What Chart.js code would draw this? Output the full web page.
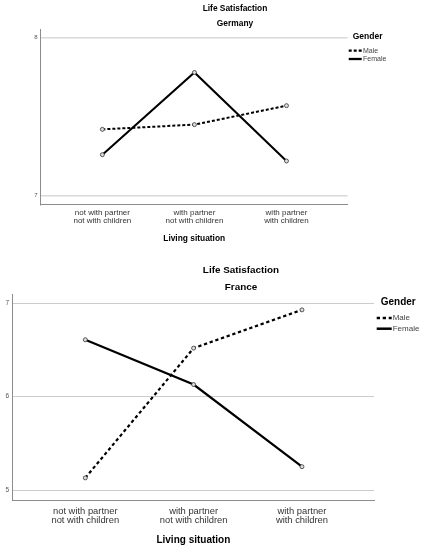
<!DOCTYPE html>
<html>
<head>
  <title>Life Satisfaction</title>
  <script src="https://cdn.jsdelivr.net/npm/chart.js"></script>
  <style>
    body{
        margin:0px;
        padding:0px;
        background-color:#ffffff;
    }
    .panel{
        position:absolute;
        left:0px;
        width:424px;
    }
    #germany-box{ top:0px; height:250px; }
    #france-box{ top:250px; height:300px; }
  </style>
</head>
<body>
  <div class="panel" id="germany-box"><canvas id="germany"></canvas></div>
  <div class="panel" id="france-box"><canvas id="france"></canvas></div>
  <script>
    // values
    var livingLabels = [
      ['not with partner', 'not with children'],
      ['with partner', 'not with children'],
      ['with partner', 'with children']
    ];
    var genderNames = ['Male', 'Female'];
    var germanyMale = [7.42, 7.45, 7.57];
    var germanyFemale = [7.26, 7.78, 7.22];
    var franceMale = [5.13, 6.52, 6.93];
    var franceFemale = [6.61, 6.13, 5.25];
    var germanyYTicks = [7, 8];
    var franceYTicks = [5, 6, 7];

    var FONT = '"Liberation Sans", Arial, sans-serif';
    Chart.defaults.font.family = FONT;

    // titles and the "Gender" legend, placed like the SPSS output
    var spssText = {
      id: 'spssText',
      afterDraw: function(chart, args, o) {
        var ctx = chart.ctx;
        ctx.save();
        ctx.textBaseline = 'middle';
        ctx.textAlign = 'center';
        ctx.fillStyle = '#000';
        ctx.font = 'bold ' + o.titleSize + 'px ' + FONT;
        o.titles.forEach(function(t, i) {
          ctx.fillText(t, o.titleX, o.titleY[i]);
        });
        ctx.textAlign = 'left';
        ctx.font = 'bold ' + o.legendTitleSize + 'px ' + FONT;
        ctx.fillText('Gender', o.legendTitleX, o.legendTitleY);
        chart.data.datasets.forEach(function(ds, i) {
          var y = o.itemY[i];
          ctx.beginPath();
          ctx.setLineDash(ds.borderDash || []);
          ctx.lineWidth = ds.borderWidth + 0.3;
          ctx.strokeStyle = ds.borderColor;
          ctx.moveTo(o.lineX0, y);
          ctx.lineTo(o.lineX1, y);
          ctx.stroke();
          ctx.setLineDash([]);
          ctx.fillStyle = '#444';
          ctx.font = o.itemSize + 'px ' + FONT;
          ctx.fillText(ds.label, o.itemX, y);
        });
        ctx.restore();
      }
    };

    function makeChart(id, maleVals, femaleVals, yTicks, s) {
      var ctx = document.getElementById(id).getContext('2d');
      return new Chart(ctx, {
        type: 'line',
        data: {
          datasets: [{
            label: genderNames[0],
            data: maleVals.map(function(v, i) { return {x: i, y: v}; }),
            borderColor: '#000',
            borderWidth: s.lineW,
            borderDash: s.dash,
            pointRadius: 2,
            pointBorderWidth: 0.8,
            pointBorderColor: '#333',
            pointBackgroundColor: '#dddddd',
            tension: 0
          }, {
            label: genderNames[1],
            data: femaleVals.map(function(v, i) { return {x: i, y: v}; }),
            borderColor: '#000',
            borderWidth: s.lineW,
            pointRadius: 2,
            pointBorderWidth: 0.8,
            pointBorderColor: '#333',
            pointBackgroundColor: '#dddddd',
            tension: 0
          }]
        },
        options: {
          responsive: true,
          maintainAspectRatio: false,
          animation: false,
          layout: { padding: s.pad },
          plugins: {
            legend: { display: false },
            title: { display: false },
            tooltip: { enabled: false },
            spssText: s.text
          },
          scales: {
            x: {
              type: 'linear',
              min: -0.67,
              max: 2.665,
              afterBuildTicks: function(scale) {
                scale.ticks = livingLabels.map(function(l, i) { return {value: i}; });
              },
              afterFit: function(scale) { scale.height = s.xHeight; },
              grid: { display: false, drawTicks: false },
              border: { display: true, color: '#8c8c8c', width: 1 },
              ticks: {
                autoSkip: false,
                maxRotation: 0,
                padding: s.xTickPad,
                color: '#333',
                font: { size: s.xTickSize, lineHeight: s.xTickLH },
                callback: function(v) { return livingLabels[v]; }
              },
              title: {
                display: true,
                text: 'Living situation',
                color: '#000',
                font: { size: s.axisTitleSize, weight: 'bold', lineHeight: 1.2 },
                padding: { top: 0, bottom: s.axisTitlePad }
              }
            },
            y: {
              min: s.yMin,
              max: s.yMax,
              afterBuildTicks: function(scale) {
                scale.ticks = yTicks.map(function(v) { return {value: v}; });
              },
              afterFit: function(scale) { scale.width = s.yWidth; },
              grid: { color: s.gridColor, lineWidth: s.gridW, drawTicks: false },
              border: { display: true, color: '#8c8c8c', width: 1 },
              ticks: {
                padding: s.yTickPad,
                color: '#555',
                font: { size: s.yTickSize }
              }
            }
          }
        },
        plugins: [spssText]
      });
    }

    makeChart('germany', germanyMale, germanyFemale, germanyYTicks, {
      pad: { left: 0, top: 29.3, right: 76.3, bottom: 0 },
      yWidth: 40.7, xHeight: 45.7,
      yMin: 6.946, yMax: 8.053,
      lineW: 2, dash: [3, 2],
      gridColor: '#d9d9d9', gridW: 1.5,
      xTickPad: 4, xTickSize: 8, xTickLH: 1.075,
      yTickPad: 3, yTickSize: 6,
      axisTitleSize: 8.4, axisTitlePad: 6.3,
      text: {
        titles: ['Life Satisfaction', 'Germany'],
        titleSize: 8.4, titleX: 235, titleY: [9, 23.3],
        legendTitleSize: 8.5, legendTitleX: 352.7, legendTitleY: 37,
        lineX0: 348.7, lineX1: 361.7, itemX: 363, itemY: [50.7, 59], itemSize: 7
      }
    });

    makeChart('france', franceMale, franceFemale, franceYTicks, {
      pad: { left: 0, top: 44, right: 50, bottom: 0 },
      yWidth: 12.7, xHeight: 50,
      yMin: 4.893, yMax: 7.1,
      lineW: 2.2, dash: [3.3, 2.7],
      gridColor: '#cccccc', gridW: 1,
      xTickPad: 6.2, xTickSize: 9.4, xTickLH: 1.03,
      yTickPad: 3.7, yTickSize: 6.5,
      axisTitleSize: 10, axisTitlePad: 3.3,
      text: {
        titles: ['Life Satisfaction', 'France'],
        titleSize: 9.9, titleX: 241, titleY: [20, 37.3],
        legendTitleSize: 10, legendTitleX: 380.7, legendTitleY: 52.7,
        lineX0: 376.7, lineX1: 391.7, itemX: 392.7, itemY: [68, 78.7], itemSize: 8
      }
    });
  </script>
</body>
</html>
